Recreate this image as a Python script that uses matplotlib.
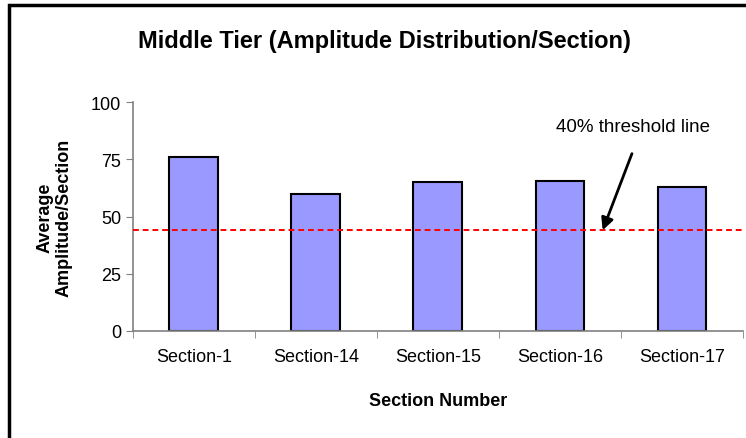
import matplotlib.pyplot as plt
from matplotlib.patches import Rectangle

plt.rcParams["font.family"] = ["Liberation Sans", "DejaVu Sans"]

sections = ["Section-1", "Section-14", "Section-15", "Section-16", "Section-17"]
amplitude = [76, 60, 65, 65.5, 63]
threshold = 44
yticks = [0, 25, 50, 75, 100]

fig = plt.figure(figsize=(7.46, 4.39), dpi=100)
ax = fig.add_axes([0.178, 0.244, 0.818, 0.521])

x = list(range(len(sections)))
ax.bar(x, amplitude, width=0.4, color="#9999FF", edgecolor="black", linewidth=1.5, zorder=2)
ax.axhline(threshold, color="red", linestyle=(0, (3, 2)), linewidth=1.4, zorder=3)

ax.set_xlim(-0.5, len(sections) - 0.5)
ax.set_ylim(0, 100)
ax.set_yticks(yticks)
ax.set_xticks(x)
ax.set_xticklabels(sections, fontsize=13)
ax.tick_params(axis="x", length=0, pad=12)
ax.tick_params(axis="y", labelsize=13, length=5, color="#808080")
ax.set_xticks([i - 0.5 for i in range(len(sections) + 1)], minor=True)
ax.tick_params(axis="x", which="minor", length=5, color="#808080")

for side in ["top", "right"]:
    ax.spines[side].set_visible(False)
for side in ["left", "bottom"]:
    ax.spines[side].set_color("#808080")
    ax.spines[side].set_linewidth(1.2)

ax.set_xlabel("Section Number", fontsize=13, fontweight="bold", labelpad=20)
ax.set_ylabel("Average\nAmplitude/Section", fontsize=13, fontweight="bold", labelpad=13)

fig.text(0.516, 0.905, "Middle Tier (Amplitude Distribution/Section)",
         fontsize=17, fontweight="bold", ha="center", va="center")

ax.text(3.6, 89.5, "40% threshold line", fontsize=13.5, ha="center", va="center")
ax.annotate("", xy=(3.35, threshold), xytext=(3.59, 77.5),
            arrowprops=dict(arrowstyle="-|>", color="black", lw=2,
                            mutation_scale=18, shrinkA=0, shrinkB=0))

fig.patches.append(Rectangle((0.012, -0.05), 1.5, 1.036, transform=fig.transFigure,
                             fill=False, edgecolor="black", linewidth=2.5))

fig.savefig("out.png", dpi=100)
